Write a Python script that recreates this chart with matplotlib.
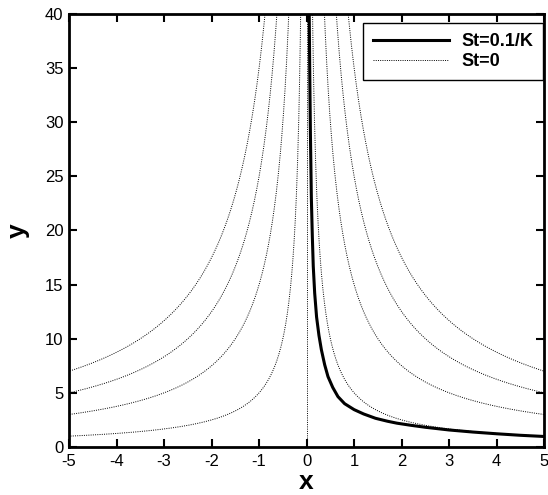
import numpy as np
import matplotlib.pyplot as plt

plt.rcParams['font.family'] = ['Liberation Sans', 'DejaVu Sans']
plt.rcParams['axes.unicode_minus'] = False

# St=0 streamlines: levels of psi = |x|*y
psi_levels = [5, 15, 25, 35]

# St=0.1/K trajectory
traj_x = [0.055, 0.065, 0.08, 0.10, 0.12, 0.14, 0.17, 0.21, 0.26, 0.31, 0.38,
          0.45, 0.55, 0.66, 0.80, 1.0, 1.2, 1.45, 1.7, 1.9, 2.2, 2.5, 3.0,
          3.5, 4.0, 4.5, 5.0]
traj_y = [40.0, 35.0, 29.0, 23.0, 19.5, 16.7, 14.2, 12.0, 10.3, 9.0, 7.6,
          6.5, 5.5, 4.65, 4.0, 3.45, 3.05, 2.65, 2.38, 2.2, 2.0, 1.82, 1.57,
          1.38, 1.22, 1.08, 0.97]

fig = plt.figure(figsize=(5.48, 4.95), dpi=100)
ax = fig.add_axes([0.126, 0.097, 0.867, 0.875])

dot = (0, (1, 1.3))
xs = np.linspace(0.05, 5, 600)
for k, c in enumerate(psi_levels):
    lab = 'St=0' if k == 0 else None
    ax.plot(xs, c / xs, color='black', lw=0.7, ls=dot, label=lab)
    ax.plot(-xs, c / xs, color='black', lw=0.7, ls=dot)
ax.axvline(0, color='black', lw=0.7, ls=dot)

ax.plot(traj_x, traj_y, color='black', lw=2.2, label='St=0.1/K')

ax.set_xlim(-5, 5)
ax.set_ylim(0, 40)
ax.set_xticks(np.arange(-5, 6, 1))
ax.set_yticks(np.arange(0, 41, 5))
ax.tick_params(direction='in', length=6, width=1.5, top=True, right=True,
               labelsize=12)
ax.tick_params(axis='x', pad=5)
ax.tick_params(axis='y', pad=4)
for s in ax.spines.values():
    s.set_linewidth(2)

ax.set_xlabel('x', fontsize=19, fontweight='bold', labelpad=1)
ax.set_ylabel('y', fontsize=19, fontweight='bold', labelpad=11)

h, l = ax.get_legend_handles_labels()
leg = ax.legend(h[::-1], l[::-1], loc='upper right',
                bbox_to_anchor=(0.998, 0.979), borderaxespad=0,
                fancybox=False, edgecolor='black', framealpha=1,
                handlelength=4.2, prop={'weight': 'bold', 'size': 13},
                borderpad=0.55, labelspacing=0.2, handletextpad=0.7)
leg.get_frame().set_linewidth(1)

fig.savefig('out.png', dpi=100)
